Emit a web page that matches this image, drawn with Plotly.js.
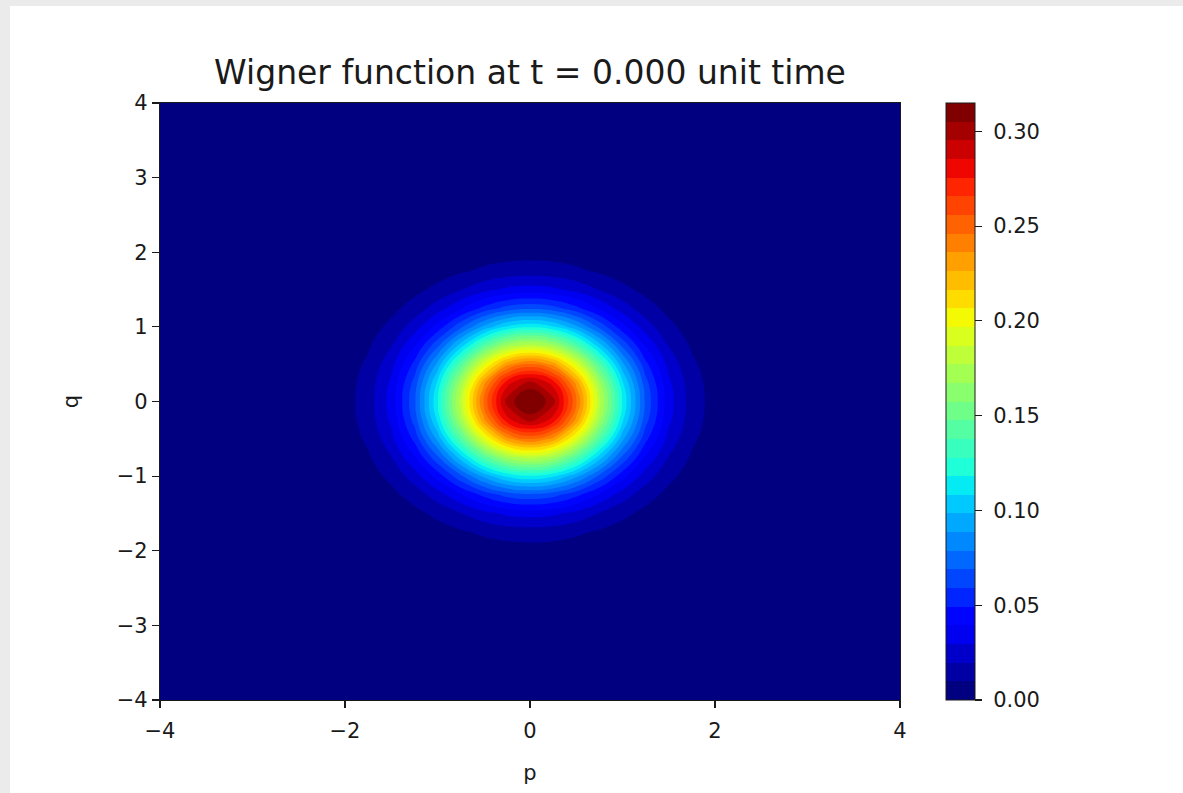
<!DOCTYPE html>
<html>
<head>
<meta charset="utf-8">
<script src="https://cdn.plot.ly/plotly-3.0.1.min.js"></script>
<style>
  html, body { margin: 0; padding: 0; background: #ebebeb; width: 1183px; height: 793px; overflow: hidden; }
  #plot { position: absolute; left: 10px; top: 6px; width: 1173px; height: 787px; background: #ffffff; }
</style>
</head>
<body>
<div id="plot"></div>
<script>
// Grid coordinates (p on x, q on y)
const pValues = [-4, -3.75, -3.5, -3.25, -3, -2.75, -2.5, -2.25, -2, -1.75, -1.5, -1.25, -1, -0.75, -0.5, -0.25, 0,
                 0.25, 0.5, 0.75, 1, 1.25, 1.5, 1.75, 2, 2.25, 2.5, 2.75, 3, 3.25, 3.5, 3.75, 4];
const qValues = [-4, -3.75, -3.5, -3.25, -3, -2.75, -2.5, -2.25, -2, -1.75, -1.5, -1.25, -1, -0.75, -0.5, -0.25, 0,
                 0.25, 0.5, 0.75, 1, 1.25, 1.5, 1.75, 2, 2.25, 2.5, 2.75, 3, 3.25, 3.5, 3.75, 4];

// Wigner value read along the p axis (through q = 0) and along the q axis (through p = 0)
const wAlongP = [0, 0, 0, 0.00001, 0.00004, 0.00017, 0.00061, 0.00201, 0.00583, 0.0149, 0.0335, 0.0667, 0.117, 0.181, 0.248, 0.299, 0.318,
                 0.299, 0.248, 0.181, 0.117, 0.0667, 0.0335, 0.0149, 0.00583, 0.00201, 0.00061, 0.00017, 0.00004, 0.00001, 0, 0, 0];
const wAlongQ = [0, 0, 0, 0.00001, 0.00004, 0.00017, 0.00061, 0.00201, 0.00583, 0.0149, 0.0335, 0.0667, 0.117, 0.181, 0.248, 0.299, 0.318,
                 0.299, 0.248, 0.181, 0.117, 0.0667, 0.0335, 0.0149, 0.00583, 0.00201, 0.00061, 0.00017, 0.00004, 0.00001, 0, 0, 0];
const wPeak = 0.318;

// Contour levels and colour bar
const levelStart = 0.00984;
const levelEnd = 0.3051;
const levelStep = 0.00984;
const colorbarTicks = [0, 0.05, 0.10, 0.15, 0.20, 0.25, 0.30];
const titleText = 'Wigner function at t = 0.000 unit time';
const xLabel = 'p';
const yLabel = 'q';
const xTicks = [-4, -2, 0, 2, 4];
const yTicks = [-4, -3, -2, -1, 0, 1, 2, 3, 4];

// Build the grid (separable field) from the two read profiles
const zGrid = qValues.map((q, i) => pValues.map((p, j) => wAlongQ[i] * wAlongP[j] / wPeak));

// matplotlib "jet"
const jet = [
  [0.0,   'rgb(0,0,128)'],
  [0.11,  'rgb(0,0,255)'],
  [0.125, 'rgb(0,0,255)'],
  [0.34,  'rgb(0,219,255)'],
  [0.35,  'rgb(0,230,247)'],
  [0.375, 'rgb(21,255,226)'],
  [0.64,  'rgb(239,255,8)'],
  [0.65,  'rgb(247,245,0)'],
  [0.66,  'rgb(255,236,0)'],
  [0.89,  'rgb(255,19,0)'],
  [0.91,  'rgb(232,0,0)'],
  [1.0,   'rgb(128,0,0)']
];

const ink = '#1a1a1a';
const font = {family: 'DejaVu Sans', size: 21, color: ink};
const minusFmt = v => v < 0 ? '\u2212' + Math.abs(v) : String(v);

const trace = {
  type: 'contour',
  x: pValues,
  y: qValues,
  z: zGrid,
  colorscale: jet,
  zmin: 0,
  zmax: levelEnd + levelStep,
  autocontour: false,
  contours: {start: levelStart, end: levelEnd, size: levelStep, coloring: 'fill', showlines: false},
  line: {width: 0, smoothing: 1.3},
  hoverinfo: 'skip',
  colorbar: {
    x: 1.062, xanchor: 'left', xref: 'paper',
    y: 0.5, yanchor: 'middle', len: 1, lenmode: 'fraction',
    thickness: 29, xpad: 0, ypad: 0,
    outlinewidth: 1, outlinecolor: ink,
    ticks: 'outside', ticklen: 7, tickwidth: 1.2, tickcolor: ink,
    tickmode: 'array', tickvals: colorbarTicks, ticktext: colorbarTicks.map(v => '\u2006\u2006' + v.toFixed(2)),
    tickfont: font
  }
};

const layout = {
  width: 1173, height: 787,
  margin: {l: 150, r: 283, t: 97, b: 93},
  paper_bgcolor: '#ffffff',
  plot_bgcolor: '#000080',
  font: font,
  showlegend: false,
  title: {
    text: titleText,
    font: {family: 'DejaVu Sans', size: 33, color: ink},
    x: 0.5, xref: 'paper', xanchor: 'center',
    y: 0.915, yref: 'container', yanchor: 'middle'
  },
  xaxis: {
    range: [-4, 4], tickmode: 'array', tickvals: xTicks, ticktext: xTicks.map(minusFmt),
    ticks: 'outside', ticklen: 7, tickwidth: 1.2, tickcolor: ink, ticklabelstandoff: 5,
    showline: true, linecolor: ink, linewidth: 1.2, mirror: true,
    showgrid: false, zeroline: false, tickfont: font,
    title: {text: xLabel, font: font, standoff: 22}
  },
  yaxis: {
    range: [-4, 4], tickmode: 'array', tickvals: yTicks, ticktext: yTicks.map(minusFmt),
    ticks: 'outside', ticklen: 7, tickwidth: 1.2, tickcolor: ink,
    showline: true, linecolor: ink, linewidth: 1.2, mirror: true,
    showgrid: false, zeroline: false, tickfont: font,
    title: {text: yLabel, font: font, standoff: 32}
  }
};

Plotly.newPlot('plot', [trace], layout, {staticPlot: true, displayModeBar: false});
</script>
</body>
</html>
